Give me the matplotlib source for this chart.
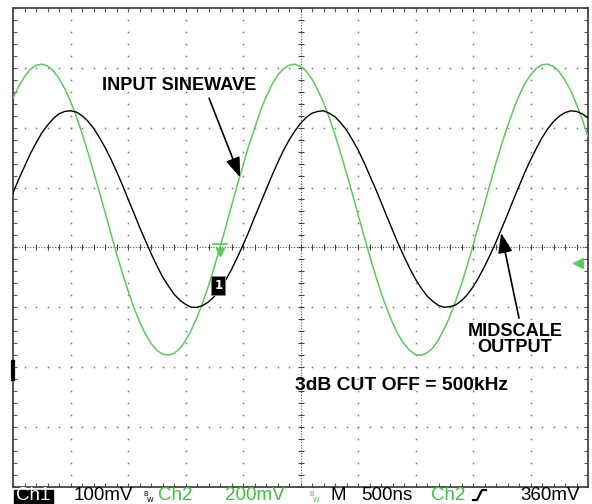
import numpy as np
import matplotlib
matplotlib.use("Agg")
import matplotlib.pyplot as plt
from matplotlib.lines import Line2D
from matplotlib.patches import Rectangle

# scope screen: 10 x 8 divisions, 500 ns/div, samples every 50 ns
time_ns = np.arange(0, 5001, 50)

# Ch2 (input sinewave), in divisions from centre line
ch2_div = [2.49, 2.69, 2.85, 2.97, 3.04, 3.06, 3.03, 2.95, 2.82, 2.65,
           2.44, 2.19, 1.91, 1.60, 1.27, 0.93, 0.59, 0.24, -0.10, -0.42,
           -0.72, -1.00, -1.24, -1.44, -1.60, -1.72, -1.78, -1.80, -1.77, -1.69,
           -1.56, -1.38, -1.17, -0.92, -0.64, -0.33, 0.00, 0.34, 0.69, 1.04,
           1.37, 1.70, 1.98, 2.27, 2.51, 2.71, 2.87, 2.98, 3.04, 3.06,
           3.02, 2.94, 2.81, 2.63, 2.42, 2.17, 1.88, 1.57, 1.24, 0.90,
           0.55, 0.21, -0.13, -0.45, -0.75, -1.02, -1.26, -1.46, -1.61, -1.72,
           -1.79, -1.80, -1.76, -1.68, -1.54, -1.36, -1.15, -0.89, -0.61, -0.30,
           0.03, 0.38, 0.72, 1.07, 1.41, 1.73, 2.02, 2.29, 2.53, 2.73,
           2.88, 2.99, 3.05, 3.06, 3.02, 2.93, 2.79, 2.62, 2.39, 2.14,
           1.85]

# Ch1 (midscale output), in divisions from centre line
ch1_div = [0.91, 1.14, 1.35, 1.56, 1.74, 1.91, 2.04, 2.15, 2.23, 2.27,
           2.28, 2.26, 2.20, 2.11, 1.99, 1.84, 1.67, 1.48, 1.27, 1.05,
           0.81, 0.58, 0.34, 0.12, -0.10, -0.30, -0.49, -0.64, -0.78, -0.88,
           -0.95, -1.00, -1.00, -0.97, -0.91, -0.82, -0.69, -0.54, -0.37, -0.17,
           0.04, 0.26, 0.50, 0.73, 0.96, 1.19, 1.41, 1.61, 1.79, 1.94,
           2.07, 2.17, 2.24, 2.27, 2.28, 2.24, 2.18, 2.08, 1.96, 1.80,
           1.63, 1.43, 1.21, 0.99, 0.76, 0.52, 0.29, 0.06, -0.15, -0.35,
           -0.53, -0.68, -0.81, -0.90, -0.97, -1.00, -0.99, -0.96, -0.89, -0.79,
           -0.66, -0.50, -0.32, -0.12, 0.09, 0.32, 0.55, 0.79, 1.02, 1.25,
           1.46, 1.65, 1.83, 1.98, 2.10, 2.19, 2.25, 2.28, 2.27, 2.23,
           2.16]

status_items = [("100mV", 74, "black"), ("Ch2", 158, "#3fc13f"), ("200mV", 225, "#3fc13f"),
                ("M", 331, "black"), ("500ns", 361, "black"), ("Ch2", 431, "#3fc13f"),
                ("360mV", 520, "black")]

W, H = 592, 504
GREEN = "#5cc95c"


def fx(px):
    return px / W


def fy(py):
    return 1 - py / H


fig = plt.figure(figsize=(W / 100, H / 100), dpi=100)
ax = fig.add_axes([fx(13), fy(487), fx(588) - fx(13), fy(7.8) - fy(487)])
ax.set_xlim(0, 10)
ax.set_ylim(-4, 4)

# frame with small inward ticks every 1/5 div
for s in ax.spines.values():
    s.set_color("#444444")
    s.set_linewidth(1.3)
ax.set_xticks(np.arange(0, 10.01, 0.2))
ax.set_yticks(np.arange(-4, 4.01, 0.2))
ax.tick_params(direction="in", length=3, width=0.8, color="#555555",
               top=True, right=True, labelbottom=False, labelleft=False)

# dotted graticule
minor = np.arange(0, 10.01, 0.2)
vminor = np.arange(-4, 4.01, 0.2)
for gx in range(1, 10):
    if gx == 5:
        continue
    ax.plot(np.full_like(vminor, gx), vminor, ls="none", marker="s", ms=1.1, color="#777777", mew=0)
for gy in range(-3, 4):
    if gy == 0:
        continue
    ax.plot(minor, np.full_like(minor, gy), ls="none", marker="s", ms=1.1, color="#777777", mew=0)
# centre axes with tick marks
ax.axhline(0, color="#555555", lw=0.8, ls=(0, (1, 1.5)))
ax.axvline(5, color="#555555", lw=0.8, ls=(0, (1, 1.5)))
ax.plot(minor, np.zeros_like(minor), ls="none", marker="|", ms=5, mew=0.8, color="#444444")
ax.plot(np.full_like(vminor, 5), vminor, ls="none", marker="_", ms=5, mew=0.8, color="#444444")

# traces
t_div = time_ns / 500
ax.plot(t_div, ch2_div, color=GREEN, lw=1.1, zorder=5)
ax.plot(t_div, ch1_div, color="black", lw=1.0, zorder=6)

# markers
ax.plot([3.6], [-0.08], marker="v", ms=6, color=GREEN, zorder=7)
ax.plot([3.48, 3.72], [0.05, 0.05], color=GREEN, lw=1.2, zorder=7)
ax.text(3.57, -0.64, "1", color="white", fontsize=8.5, fontweight="bold", ha="center", va="center",
        zorder=8, bbox=dict(boxstyle="square,pad=0.25", fc="black", ec="#888888", lw=0.6))
ax.plot([9.83], [-0.26], marker="<", ms=7, color=GREEN, clip_on=False, zorder=7)
ax.plot([0, 0], [-1.92, -2.19], color="black", lw=3, clip_on=False, zorder=7)

# annotations
lab = dict(fontfamily="Liberation Sans", fontweight="bold", color="black")
ax.text(2.89, 2.71, "INPUT SINEWAVE", fontsize=13.1, ha="center", va="center", **lab)
ax.text(8.73, -1.54, "MIDSCALE\nOUTPUT", fontsize=13.1, ha="center", va="center",
        linespacing=0.95, **lab)
ax.text(6.75, -2.30, "3dB CUT OFF = 500kHz", fontsize=13.9, ha="center", va="center", **lab)
arrow = dict(arrowstyle="-|>,head_length=0.6,head_width=0.22", color="black", lw=1.2,
             mutation_scale=20, shrinkA=0, shrinkB=0)
ax.annotate("", xy=(3.95, 1.17), xytext=(3.41, 2.49), arrowprops=arrow, zorder=9)
ax.annotate("", xy=(8.49, 0.24), xytext=(8.80, -1.18), arrowprops=arrow, zorder=9)

# status line
base = fy(500.5)
fig.patches.append(Rectangle((fx(14), fy(504)), fx(53) - fx(14), fy(490) - fy(504),
                             transform=fig.transFigure, color="black"))
fig.text(fx(33.5), base, "Ch1", color="white", fontsize=13.5, ha="center", va="baseline",
         fontfamily="Liberation Sans")
for txt, px, col in status_items:
    fig.text(fx(px), base, txt, color=col, fontsize=13.5, ha="left", va="baseline",
             fontfamily="Liberation Sans")
for px, col in [(143, "black"), (309, "#3fc13f")]:
    fig.text(fx(px), fy(501), r"$^{\mathrm{B}}\!_{\mathrm{W}}$", color=col, fontsize=7,
             ha="left", va="baseline")
fig.lines.append(Line2D([fx(473), fx(477), fx(482), fx(486)], [fy(500), fy(500), fy(490), fy(490)],
                        transform=fig.transFigure, color="black", lw=1.6))

fig.savefig("out.png", dpi=100)
